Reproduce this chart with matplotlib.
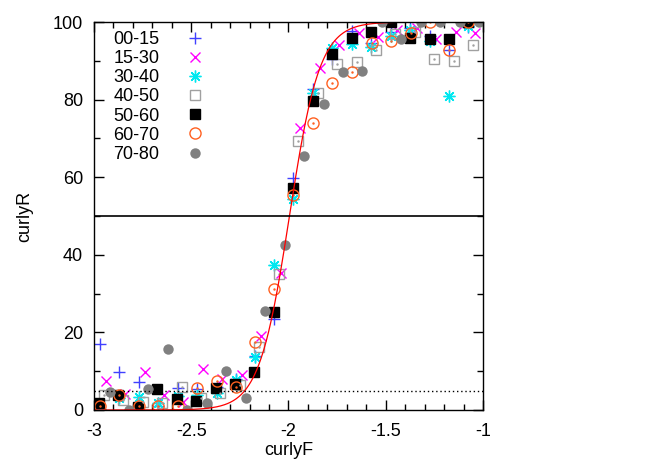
import numpy as np
import matplotlib
matplotlib.use("Agg")
import matplotlib.pyplot as plt
from matplotlib.ticker import MultipleLocator

plt.rcParams["font.family"] = ["Liberation Sans", "DejaVu Sans"]

# ---- data ----
x_0015 = [-2.97, -2.87, -2.77, -2.67, -2.57, -2.47, -2.37, -2.27, -2.17, -2.075, -1.975,
          -1.875, -1.775, -1.675, -1.575, -1.475, -1.375, -1.275, -1.175, -1.075]
y_0015 = [17.0, 9.9, 7.3, 1.0, 5.7, 5.3, 6.0, 7.9, 14.0, 23.4, 59.7,
          82.7, 90.4, 97.6, 94.5, 97.3, 98.4, 96.5, 92.8, 98.6]

x_1530 = [-2.94, -2.84, -2.74, -2.64, -2.54, -2.44, -2.34, -2.24, -2.14, -2.04,
          -1.94, -1.84, -1.74, -1.64, -1.54, -1.44, -1.34, -1.24, -1.14, -1.04]
y_1530 = [7.6, 4.1, 9.7, 3.9, 2.1, 10.6, 7.9, 9.0, 19.0, 35.4,
          72.6, 88.1, 94.2, 97.1, 96.2, 97.9, 98.4, 95.6, 97.3, 97.1]

x_3040 = [-2.97, -2.87, -2.77, -2.67, -2.57, -2.47, -2.37, -2.27, -2.17, -2.075,
          -1.975, -1.875, -1.775, -1.675, -1.575, -1.475, -1.375, -1.275, -1.175, -1.075]
y_3040 = [0.3, 3.0, 3.3, 1.8, 3.5, 3.9, 4.3, 7.7, 13.7, 37.4,
          54.5, 81.8, 93.4, 94.3, 93.5, 96.3, 98.0, 95.0, 81.0, 99.0]

x_4050 = [-2.95, -2.85, -2.75, -2.65, -2.55, -2.45, -2.35, -2.25, -2.15, -2.05,
          -1.95, -1.85, -1.75, -1.65, -1.55, -1.45, -1.35, -1.25, -1.15, -1.05]
y_4050 = [3.9, 2.6, 2.1, 1.9, 6.0, 3.0, 4.5, 6.4, 16.3, 35.1,
          69.4, 81.8, 89.1, 89.8, 92.8, 97.0, 97.3, 90.4, 89.9, 94.1]

x_5060 = [-2.975, -2.875, -2.775, -2.675, -2.575, -2.475, -2.375, -2.275, -2.175, -2.075,
          -1.975, -1.875, -1.775, -1.675, -1.575, -1.475, -1.375, -1.275, -1.175, -1.075]
y_5060 = [1.7, 3.9, 0.9, 5.3, 2.8, 2.3, 5.6, 6.6, 9.7, 25.3,
          57.2, 79.6, 91.8, 95.9, 97.3, 100.0, 95.9, 95.6, 95.6, 100.0]

x_6070 = [-2.97, -2.87, -2.77, -2.67, -2.57, -2.47, -2.37, -2.27, -2.17, -2.075,
          -1.975, -1.872, -1.775, -1.672, -1.572, -1.475, -1.372, -1.272, -1.173, -1.076]
y_6070 = [1.0, 3.9, 1.0, 1.0, 1.0, 5.6, 7.6, 6.0, 17.6, 31.1,
          55.4, 73.9, 84.2, 87.0, 94.5, 95.1, 97.1, 100.0, 92.8, 100.0]

x_7080 = [-2.92, -2.82, -2.72, -2.62, -2.52, -2.42, -2.32, -2.22, -2.12, -2.02,
          -1.92, -1.82, -1.72, -1.62, -1.52, -1.42, -1.32, -1.22, -1.12, -1.02]
y_7080 = [4.7, 0.0, 5.3, 15.6, 0.0, 1.7, 10.1, 3.0, 25.6, 42.4,
          65.5, 78.9, 87.2, 87.4, 100.0, 95.6, 100.0, 100.0, 100.0, 100.0]

# logistic fit drawn in red
fit_centre = -1.995
fit_width = 0.078

fig = plt.figure(figsize=(6.64, 4.66), dpi=100)
ax = fig.add_axes([94 / 664, 56 / 466, 389 / 664, 388 / 466])

ms = 7.5
ax.plot(x_0015, y_0015, ls="none", marker="+", ms=ms + 1, mew=1.0, color="#4040ff", label="00-15")
ax.plot(x_1530, y_1530, ls="none", marker="x", ms=ms, mew=1.0, color="#ff00ff", label="15-30")
ax.plot(x_3040, y_3040, ls="none", marker=(8, 2, 0), ms=ms + 1, mew=1.0, color="#00e8f0", label="30-40")
ax.plot(x_4050, y_4050, ls="none", marker="s", ms=ms, mew=1.0, mfc="none", mec="#a0a0a0", label="40-50")
ax.plot(x_5060, y_5060, ls="none", marker="s", ms=ms, mew=1.0, color="black", label="50-60")
ax.plot(x_6070, y_6070, ls="none", marker="o", ms=ms + 0.5, mew=1.0, mfc="none", mec="#ff6020", label="60-70")
ax.plot(x_7080, y_7080, ls="none", marker="o", ms=ms, mew=0, color="#808080", label="70-80")

# gnuplot-style centre dots on the open symbols
ax.plot(x_4050, y_4050, ls="none", marker=".", ms=1.5, color="#a0a0a0")
ax.plot(x_6070, y_6070, ls="none", marker=".", ms=1.5, color="#ff6020")

xs = np.linspace(-3, -1, 400)
ax.plot(xs, 100 / (1 + np.exp(-(xs - fit_centre) / fit_width)), color="red", lw=0.9)
ax.axhline(50, color="black", lw=1.2)
ax.axhline(5, color="black", lw=1.0, ls=(0, (1, 2)))

ax.set_xlim(-3, -1)
ax.set_ylim(0, 100)
ax.xaxis.set_major_locator(MultipleLocator(0.5))
ax.xaxis.set_minor_locator(MultipleLocator(0.1))
ax.yaxis.set_major_locator(MultipleLocator(20))
ax.yaxis.set_minor_locator(MultipleLocator(10))
ax.set_xticks([-3, -2.5, -2, -1.5, -1])
ax.set_xticklabels(["-3", "-2.5", "-2", "-1.5", "-1"])
ax.tick_params(which="both", direction="in", top=True, right=True, labelsize=13, width=1.0)
ax.tick_params(which="major", length=7)
ax.tick_params(axis="x", which="major", pad=9)
ax.tick_params(axis="y", which="major", pad=8)
ax.tick_params(which="minor", length=4)
for s in ax.spines.values():
    s.set_linewidth(1.0)

ax.set_xlabel("curlyF", fontsize=13, labelpad=2)
ax.set_ylabel("curlyR", fontsize=13, labelpad=14)

ax.legend(loc="upper left", bbox_to_anchor=(0.049, 0.977), frameon=False, markerfirst=False,
          fontsize=13, handlelength=1.0, handletextpad=1.5, labelspacing=0.12,
          borderaxespad=0.0, borderpad=0.0, numpoints=1)

fig.savefig("out.png", dpi=100)
